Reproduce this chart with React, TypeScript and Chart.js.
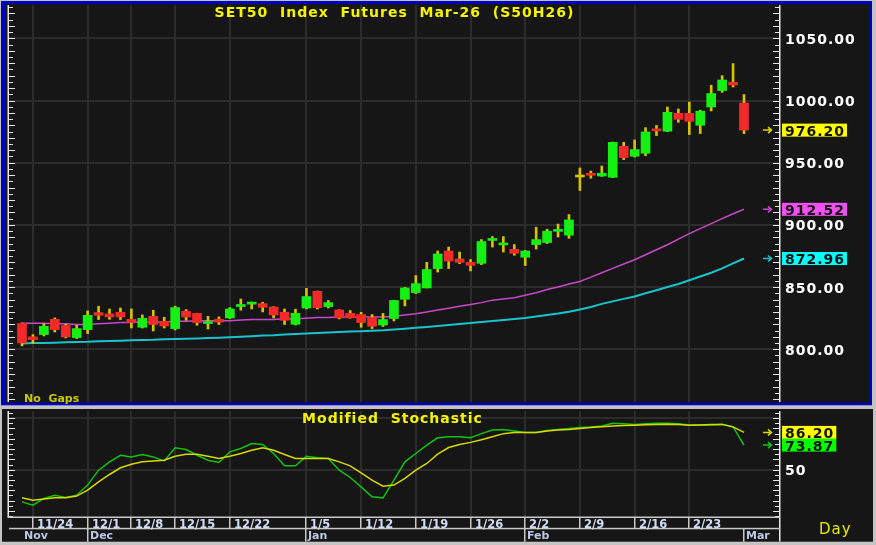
import React, { useEffect, useRef } from "react";
import { Chart, registerables } from "chart.js";

Chart.register(...registerables);

// ---------------- data ----------------
const dates = [
  "11/21",
  "11/24", "11/25", "11/26", "11/27", "11/28",
  "12/1", "12/2", "12/3", "12/4",
  "12/8", "12/9", "12/11", "12/12",
  "12/15", "12/16", "12/17", "12/18", "12/19",
  "12/22", "12/23", "12/24", "12/25", "12/26", "12/29", "12/30",
  "1/5", "1/6", "1/7", "1/8", "1/9",
  "1/12", "1/13", "1/14", "1/15", "1/16",
  "1/19", "1/20", "1/21", "1/22", "1/23",
  "1/26", "1/27", "1/28", "1/29", "1/30",
  "2/2", "2/3", "2/4", "2/5", "2/6",
  "2/9", "2/10", "2/11", "2/12", "2/13",
  "2/16", "2/17", "2/18", "2/19", "2/20",
  "2/23", "2/24", "2/25", "2/26", "2/27",
  "3/2",
];

const opens = [
  820.7, 809.9, 811.8, 824.1, 819.1, 809.4, 815.8, 829.5, 828.4, 829.7,
  824.1, 817.7, 826.5, 822.5, 816.6, 830.6, 828.9, 820.7, 824.1, 825.2,
  834.4, 836.3, 836.7, 834.0, 829.7, 820.1, 833.2, 846.6, 834.3, 831.6,
  828.9, 827.9, 825.5, 819.5, 824.7, 840.2, 845.6, 849.3, 864.9, 879.0,
  872.6, 869.9, 869.1, 887.5, 883.9, 880.4, 874.0, 884.2, 885.8, 894.8,
  891.7, 938.5, 941.5, 939.3, 938.3, 963.2, 955.2, 957.6, 976.2, 975.3,
  989.7, 989.7, 980.1, 994.8, 1008.0, 1014.7, 998.0,
];
const highs = [
  821.2, 811.8, 820.7, 825.2, 820.1, 819.3, 830.8, 834.6, 832.4, 833.2,
  832.4, 827.6, 831.4, 825.7, 834.6, 831.9, 829.0, 826.5, 826.0, 833.5,
  840.4, 838.0, 837.8, 834.2, 832.4, 832.2, 849.0, 846.8, 839.2, 831.8,
  831.1, 829.7, 827.9, 828.9, 839.2, 849.8, 859.3, 869.9, 879.0, 882.2,
  878.2, 872.1, 888.2, 890.6, 890.6, 884.2, 879.5, 898.1, 896.5, 900.7,
  908.3, 945.8, 943.3, 947.4, 966.6, 966.4, 968.3, 978.2, 979.9, 994.8,
  993.2, 998.8, 992.2, 1012.3, 1020.0, 1029.7, 1004.8,
];
const lows = [
  802.7, 804.6, 810.7, 813.9, 809.1, 808.6, 812.6, 823.9, 824.1, 823.9,
  817.1, 817.1, 814.7, 817.1, 815.5, 823.3, 819.3, 816.3, 819.9, 824.7,
  831.4, 832.4, 830.0, 825.2, 819.9, 819.5, 832.4, 832.4, 833.2, 824.4,
  825.0, 817.7, 816.6, 818.3, 822.8, 834.8, 844.8, 849.3, 862.1, 864.9,
  868.9, 863.0, 868.1, 882.2, 878.2, 875.6, 867.3, 880.6, 885.0, 890.3,
  889.2, 927.6, 937.5, 939.0, 938.0, 952.5, 954.6, 955.7, 971.8, 975.0,
  982.5, 972.6, 973.4, 991.6, 1006.6, 1010.9, 973.4,
];
const closes = [
  805.1, 807.8, 818.5, 815.8, 809.9, 816.6, 827.3, 827.3, 826.0, 826.0,
  821.5, 824.9, 819.9, 818.7, 833.5, 826.0, 821.5, 821.9, 821.9, 832.4,
  835.0, 836.9, 833.8, 827.6, 823.3, 828.9, 842.4, 833.5, 837.5, 825.2,
  825.2, 821.5, 818.5, 823.9, 839.2, 849.3, 852.8, 864.1, 876.6, 871.0,
  869.9, 867.5, 886.6, 888.1, 884.4, 877.2, 879.0, 888.2, 894.9, 895.4,
  904.0, 938.5, 939.9, 941.5, 966.4, 954.1, 960.6, 974.7, 975.6, 990.5,
  984.9, 983.3, 991.4, 1005.6, 1016.5, 1012.5, 976.2,
];

// moving averages (magenta = shorter, cyan = longer)
const maFast = [
  821, 821, 821, 820.5, 820.5, 820, 820, 820.5, 821, 821.5,
  821.5, 822, 822, 822, 822.5, 822.5, 823, 823, 823, 823,
  823.5, 824, 824, 824, 824.5, 824.5, 825, 825.5, 825.5, 826,
  826, 826, 826, 826, 826.5, 827.5, 828.5, 830, 831.5, 833,
  834.5, 836, 837.5, 839.5, 840.5, 841.5, 843.5, 845.5, 848, 850,
  852.5, 854.5, 858, 861.5, 865, 868.5, 872, 876, 880, 884,
  888.5, 893, 897, 901, 905, 909, 912.52,
];
const maSlow = [
  804.6, 805, 805, 805.3, 805.6, 805.9, 806, 806.4, 806.6, 806.9,
  807.2, 807.4, 807.6, 808, 808.2, 808.5, 808.7, 809, 809.3, 809.6,
  810, 810.5, 811, 811.3, 811.8, 812.2, 812.6, 813, 813.4, 813.8,
  814.2, 814.5, 814.8, 815.2, 815.8, 816.5, 817.3, 818, 818.8, 819.6,
  820.4, 821.2, 822, 822.8, 823.6, 824.4, 825.2, 826.4, 827.6, 828.8,
  830.2, 832, 834, 836.5, 838.5, 840.5, 842.5, 845, 847.5, 850,
  852.5, 855.5, 858.5, 861.5, 865, 869, 872.96,
];

// modified stochastic
const stochK = [
  18.7, 15.5, 22, 25.2, 23, 25.2, 35, 49.5, 57.6, 64,
  62.4, 64.7, 62.4, 58.5, 71.2, 69.6, 64, 59.2, 57, 67.3,
  70.6, 75.4, 74.5, 65.7, 53.7, 53.7, 63.1, 61.5, 60.9, 49.5,
  42.4, 33.3, 23.6, 22.6, 39.8, 57.6, 65.7, 73.8, 81, 82,
  82, 81, 85, 88.5, 89, 87.5, 86, 86, 88, 89,
  90, 91, 91.5, 92.5, 95, 94.5, 93.8, 94.5, 95, 95,
  94.5, 93.5, 93.5, 93.5, 94, 91.5, 73.87,
];
const stochD = [
  22.6, 20.4, 21.4, 22.6, 22.6, 24.3, 30.1, 38.2, 45.3, 51.8,
  55.3, 57.6, 58.5, 59.2, 63.1, 65, 65, 63.1, 60.9, 63.1,
  65.7, 68.9, 71.2, 68.9, 64.7, 60.9, 60.9, 60.9, 60.9, 57.6,
  53.7, 46.9, 39.8, 34, 35, 41.5, 49.5, 56, 65, 71.5,
  74.5, 76.5, 79, 82, 85, 86, 86, 86, 87.5, 88.5,
  89, 90, 91, 91.8, 92.5, 92.8, 93.2, 93.6, 94, 94.2,
  94, 93.2, 93.5, 93.8, 94, 91.6, 86.2,
];

const weekStarts = ["11/24", "12/1", "12/8", "12/15", "12/22", "1/5", "1/12", "1/19", "1/26", "2/2", "2/9", "2/16", "2/23"];
const monthNames = ["Nov", "Dec", "Jan", "Feb", "Mar"];
const priceTicks = [800, 850, 900, 950, 1000, 1050];
const stochGridTicks = [50, 100];
const stochLabelTicks = [50];

const TITLE = "SET50  Index  Futures  Mar-26  (S50H26)";
const SUBTITLE = "Modified  Stochastic";
const NOTE = "No  Gaps";
const PERIOD = "Day";

// ---------------- style ----------------
const BG = "#161616";
const GRID = "#2c2c2c";
const FRAME = "#c4c4c4";
const BLUE = "#0000c0";
const AXIS = "#e8e8e8";
const UP = "#14f014";
const DOWN = "#f42a2a";
const WICK = "#d4c200";
const MAG = "#c848c8";
const CYAN = "#18c4cc";
const K_COL = "#10c410";
const D_COL = "#d8d800";
const FONT = "'DejaVu Sans', Verdana, sans-serif";
const LABEL_FONT = `bold 14px ${FONT}`;

const X_MIN = -1.188;
const X_MAX = 69.29;
const Y_MIN = 757.6;
const Y_MAX = 1076.8;
const S_MIN = 4;
const S_MAX = 107;

Chart.defaults.font.family = FONT;

const idx = dates.map((_, i) => i);
const weekIdx = weekStarts.map((d) => dates.indexOf(d));
const monthIdx: number[] = [];
dates.forEach((d, i) => {
  const m = d.split("/")[0];
  if (i === 0 || dates[i - 1].split("/")[0] !== m) monthIdx.push(i);
});

// ---------------- helpers ----------------
function text(ctx: any, s: string, x: number, y: number, font: string, color: string, align = "left", spacing = "0px") {
  ctx.font = font;
  ctx.fillStyle = color;
  ctx.textAlign = align;
  ctx.textBaseline = "alphabetic";
  ctx.letterSpacing = spacing;
  ctx.fillText(s, x, y);
  ctx.letterSpacing = "0px";
}

function drawAxes(ctx: any, yS: any, area: any, rightBottom: number) {
  ctx.fillStyle = AXIS;
  ctx.fillRect(area.left - 1.5, area.top, 1.5, area.bottom - area.top);
  ctx.fillRect(area.right - 1, area.top, 1.5, rightBottom - area.top);
  const start = Math.ceil(yS.min / 5) * 5;
  for (let v = start; v <= yS.max; v += 5) {
    const y = Math.round(yS.getPixelForValue(v));
    if (y < area.top || y > area.bottom) continue;
    const len = v % 10 === 0 ? 6 : 4;
    ctx.fillRect(area.left, y, len, 1);
    ctx.fillRect(area.right - 1 - len, y, len, 1);
  }
}

function tag(ctx: any, area: any, label: string, y: number, bg: string, arrow: string) {
  ctx.font = LABEL_FONT;
  ctx.letterSpacing = "1px";
  const w = ctx.measureText(label).width;
  ctx.letterSpacing = "0px";
  const bx = area.right + 2;
  ctx.fillStyle = bg;
  ctx.fillRect(bx, y - 6.5, w + 5, 13);
  text(ctx, label, bx + 3, y + 5.5, LABEL_FONT, "#141414", "left", "1px");
  ctx.strokeStyle = arrow;
  ctx.lineWidth = 1.5;
  ctx.beginPath();
  ctx.moveTo(area.right - 17, y);
  ctx.lineTo(area.right - 8.5, y);
  ctx.moveTo(area.right - 12, y - 3);
  ctx.lineTo(area.right - 8.5, y);
  ctx.lineTo(area.right - 12, y + 3);
  ctx.stroke();
}

function xScaleOpts() {
  return {
    type: "linear",
    min: X_MIN,
    max: X_MAX,
    bounds: "data",
    offset: false,
    grid: { color: GRID, lineWidth: 2, drawTicks: false, offset: false },
    border: { display: false },
    ticks: { display: false },
    afterBuildTicks: (s: any) => {
      s.ticks = weekIdx.map((v) => ({ value: v }));
    },
  };
}

// ---------------- plugins ----------------
const pricePlugin = {
  id: "pricePanel",
  beforeDraw(chart: any) {
    const { ctx, width, height } = chart;
    ctx.save();
    ctx.fillStyle = FRAME;
    ctx.fillRect(0, 0, width, height);
    ctx.fillStyle = BLUE;
    ctx.fillRect(1, 1, 871, 404.3);
    ctx.fillStyle = BG;
    ctx.fillRect(6, 4, 863, 398.7);
    ctx.restore();
  },
  afterDraw(chart: any) {
    const { ctx, chartArea: area } = chart;
    const yS = chart.scales.y;
    ctx.save();
    drawAxes(ctx, yS, area, area.bottom);
    priceTicks.forEach((v) => {
      text(ctx, v.toFixed(2), area.right + 5, yS.getPixelForValue(v) + 5.5, LABEL_FONT, "#ffffff", "left", "1px");
    });
    const last = dates.length - 1;
    tag(ctx, area, closes[last].toFixed(2), yS.getPixelForValue(closes[last]), "#ffff00", "#d8d800");
    tag(ctx, area, maFast[last].toFixed(2), yS.getPixelForValue(maFast[last]), "#f050f0", MAG);
    tag(ctx, area, maSlow[last].toFixed(2), yS.getPixelForValue(maSlow[last]), "#00ffff", CYAN);
    text(ctx, TITLE, (area.left + area.right) / 2, area.top + 11.5, LABEL_FONT, "#f4f400", "center", "1px");
    text(ctx, NOTE, 24, area.bottom, `bold 11px ${FONT}`, "#c8c800", "left", "0px");
    ctx.restore();
  },
};

const stochPlugin = {
  id: "stochPanel",
  beforeDraw(chart: any) {
    const { ctx, width, height } = chart;
    ctx.save();
    ctx.fillStyle = FRAME;
    ctx.fillRect(0, 0, width, height);
    ctx.fillStyle = BG;
    ctx.fillRect(2, 3, 871, 132.7);
    ctx.restore();
  },
  afterDraw(chart: any) {
    const { ctx, chartArea: area } = chart;
    const yS = chart.scales.y;
    const xS = chart.scales.x;
    ctx.save();
    drawAxes(ctx, yS, area, 135.5);
    stochLabelTicks.forEach((v) => {
      text(ctx, String(v), area.right + 5, yS.getPixelForValue(v) + 5.5, LABEL_FONT, "#ffffff", "left", "1px");
    });
    const last = dates.length - 1;
    tag(ctx, area, stochD[last].toFixed(2), yS.getPixelForValue(stochD[last]), "#ffff00", "#d8d800");
    tag(ctx, area, stochK[last].toFixed(2), yS.getPixelForValue(stochK[last]), "#00ff00", K_COL);
    text(ctx, SUBTITLE, (area.left + area.right) / 2 - 2, area.top + 11.7, LABEL_FONT, "#f4f400", "center", "1px");

    // date rows
    const row1Top = area.bottom;
    const row2Top = area.bottom + 11.3;
    const rowBottom = 135.7;
    ctx.fillStyle = "#c8c8c8";
    ctx.fillRect(area.left - 1.5, row1Top - 0.5, area.right - area.left + 1.5, 1.5);
    ctx.fillRect(area.left, row2Top - 0.5, area.right - area.left, 1.5);
    weekIdx.forEach((wi, k) => {
      const x = Math.round(xS.getPixelForValue(wi));
      ctx.fillStyle = "#c8c8c8";
      ctx.fillRect(x - 1, row1Top, 1.5, row2Top - row1Top);
      text(ctx, weekStarts[k], x + 4, row2Top - 0.8, `bold 11.5px ${FONT}`, "#d4dcf4", "left", "0px");
    });
    monthIdx.forEach((mi, k) => {
      const x = Math.round(xS.getPixelForValue(mi));
      if (k > 0) {
        ctx.fillStyle = "#c8c8c8";
        ctx.fillRect(x - 1, row2Top, 1.5, rowBottom - row2Top);
      }
      text(ctx, monthNames[k], x + 2, rowBottom - 2.4, `bold 11px ${FONT}`, "#bcc8e8", "left", "0px");
    });
    text(ctx, PERIOD, 819, 127.5, `15px ${FONT}`, "#e8e800", "left", "1px");
    ctx.restore();
  },
};

function priceConfig(): any {
  return {
    type: "bar",
    data: {
      datasets: [
        {
          type: "bar",
          label: "Body",
          data: idx.map((i) => ({ x: i, y: [opens[i], closes[i]] })),
          backgroundColor: idx.map((i) => (closes[i] > opens[i] ? UP : closes[i] < opens[i] ? DOWN : WICK)),
          barThickness: 9,
          minBarLength: 2,
          grouped: false,
          borderWidth: 0,
          order: 0,
        },
        {
          type: "bar",
          label: "Range",
          data: idx.map((i) => ({ x: i, y: [lows[i], highs[i]] })),
          backgroundColor: WICK,
          barThickness: 2,
          grouped: false,
          borderWidth: 0,
          order: 1,
        },
        {
          type: "line",
          label: "MA fast",
          data: idx.map((i) => ({ x: i, y: maFast[i] })),
          borderColor: MAG,
          borderWidth: 1.5,
          pointRadius: 0,
          tension: 0,
          order: 2,
        },
        {
          type: "line",
          label: "MA slow",
          data: idx.map((i) => ({ x: i, y: maSlow[i] })),
          borderColor: CYAN,
          borderWidth: 2,
          pointRadius: 0,
          tension: 0,
          order: 3,
        },
      ],
    },
    options: {
      responsive: false,
      animation: false,
      devicePixelRatio: 1,
      events: [],
      layout: { padding: { left: 9, right: 96, top: 5, bottom: 4 } },
      plugins: { legend: { display: false }, tooltip: { enabled: false }, title: { display: false } },
      scales: {
        x: xScaleOpts(),
        y: {
          type: "linear",
          min: Y_MIN,
          max: Y_MAX,
          bounds: "data",
          beginAtZero: false,
          grid: { color: GRID, lineWidth: 2, drawTicks: false },
          border: { display: false },
          ticks: { display: false },
          afterBuildTicks: (s: any) => {
            s.ticks = priceTicks.map((v) => ({ value: v }));
          },
        },
      },
    },
    plugins: [pricePlugin],
  };
}

function stochConfig(): any {
  return {
    type: "line",
    data: {
      datasets: [
        {
          label: "%D",
          data: idx.map((i) => ({ x: i, y: stochD[i] })),
          borderColor: D_COL,
          borderWidth: 1.5,
          pointRadius: 0,
          tension: 0,
          order: 0,
        },
        {
          label: "%K",
          data: idx.map((i) => ({ x: i, y: stochK[i] })),
          borderColor: K_COL,
          borderWidth: 1.5,
          pointRadius: 0,
          tension: 0,
          order: 1,
        },
      ],
    },
    options: {
      responsive: false,
      animation: false,
      devicePixelRatio: 1,
      events: [],
      layout: { padding: { left: 9, right: 96, top: 5, bottom: 28 } },
      plugins: { legend: { display: false }, tooltip: { enabled: false }, title: { display: false } },
      scales: {
        x: xScaleOpts(),
        y: {
          type: "linear",
          min: S_MIN,
          max: S_MAX,
          bounds: "data",
          grid: { color: GRID, lineWidth: 2, drawTicks: false },
          border: { display: false },
          ticks: { display: false },
          afterBuildTicks: (s: any) => {
            s.ticks = stochGridTicks.map((v) => ({ value: v }));
          },
        },
      },
    },
    plugins: [stochPlugin],
  };
}

export default function App() {
  const topRef = useRef<HTMLCanvasElement>(null);
  const botRef = useRef<HTMLCanvasElement>(null);
  useEffect(() => {
    const top = new Chart(topRef.current as HTMLCanvasElement, priceConfig());
    const bot = new Chart(botRef.current as HTMLCanvasElement, stochConfig());
    return () => {
      top.destroy();
      bot.destroy();
    };
  }, []);
  return (
    <div style={{ position: "relative", width: 876, height: 545, overflow: "hidden", background: FRAME }}>
      <style>{"html,body{margin:0;padding:0;background:#c4c4c4;overflow:hidden;}"}</style>
      <canvas
        ref={topRef}
        width={876}
        height={406}
        style={{ position: "absolute", left: 0, top: 0, width: 876, height: 406, display: "block" }}
      />
      <canvas
        ref={botRef}
        width={876}
        height={139}
        style={{ position: "absolute", left: 0, top: 406, width: 876, height: 139, display: "block" }}
      />
    </div>
  );
}
